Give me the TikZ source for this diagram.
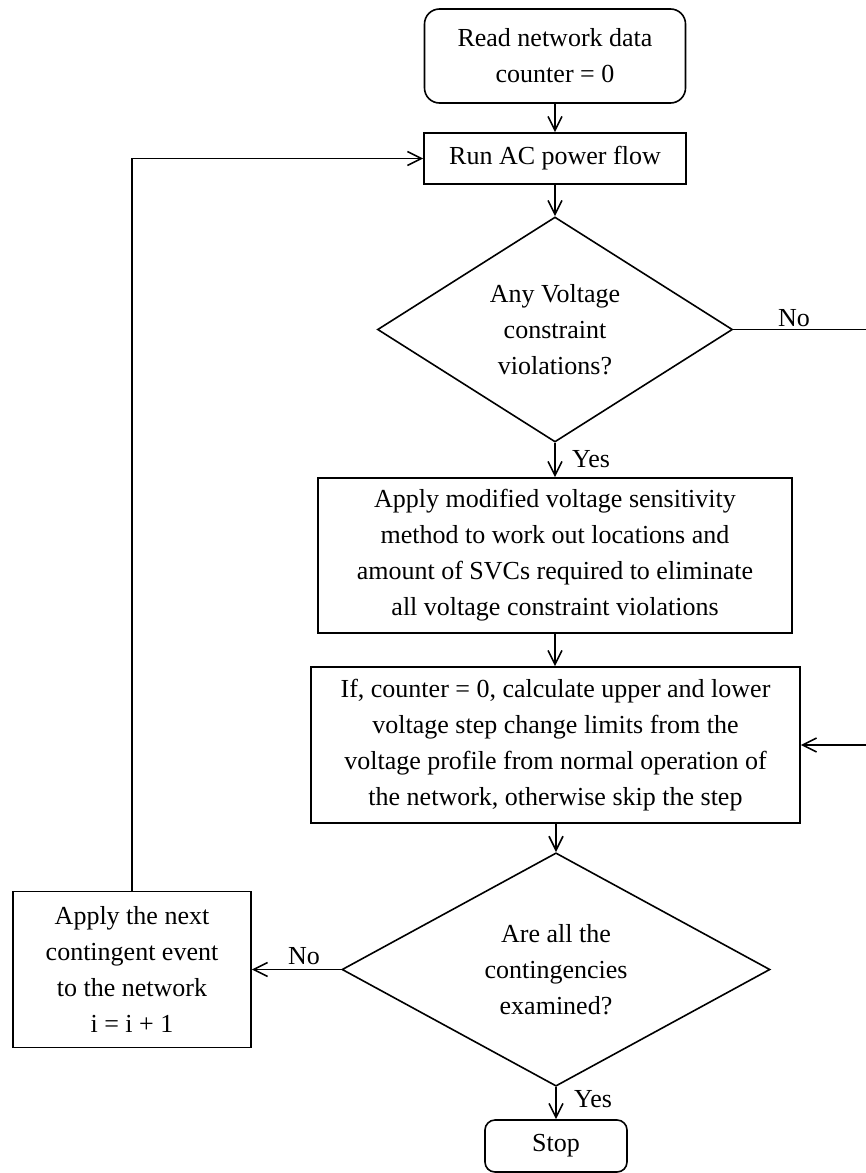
\documentclass[tikz,border=0pt]{standalone}
\usepackage{fontspec}
\setmainfont{Liberation Serif}
\usetikzlibrary{shapes.geometric,arrows.meta}
\tikzset{
  base/.style={draw, line width=1.6pt, inner sep=0pt, align=center, font=\fontsize{26}{36}\selectfont},
  procbox/.style={base, rectangle},
  termbox/.style={base, rectangle, rounded corners=15pt},
  decbox/.style={base, diamond},
  conn/.style={line width=1.6pt, -{Straight Barb[length=14pt,width=14pt,line width=1.6pt]}},
  lbl/.style={inner sep=0pt, font=\fontsize{26}{36}\selectfont}
}
\begin{document}
\begin{tikzpicture}[x=1pt,y=-1pt]
\useasboundingbox (0,0) rectangle (866,1173);
\clip (0,0) rectangle (866,1173);
% nodes
\node[termbox, minimum width=261pt, minimum height=94pt] (start) at (555,56) {Read network data\\counter = 0};
\node[procbox, minimum width=262pt, minimum height=51pt] (run) at (555,158.5) {Run AC power flow};
\node[decbox, minimum width=355pt, minimum height=225pt] (d1) at (555,329.5) {Any Voltage\\constraint\\violations?};
\node[procbox, minimum width=474pt, minimum height=155pt] (svc) at (555,555.5) {Apply modified voltage sensitivity\\method to work out locations and\\amount of SVCs required to eliminate\\all voltage constraint violations};
\node[procbox, minimum width=489pt, minimum height=156pt] (lim) at (555.5,745) {If, counter = 0, calculate upper and lower\\voltage step change limits from the\\voltage profile from normal operation of\\the network, otherwise skip the step};
\node[decbox, minimum width=428pt, minimum height=225pt] (d2) at (556,969.5) {Are all the\\contingencies\\examined?};
\node[procbox, minimum width=238pt, minimum height=156pt] (next) at (132,969.5) {Apply the next\\contingent event\\to the network\\i = i + 1};
\node[termbox, rounded corners=10pt, minimum width=142pt, minimum height=52pt] (stop) at (556,1146) {Stop};
\coordinate (rtop) at (869,329.5);
% labels
\node[lbl] (no1) at (794,318) {No};
\node[lbl] (yes1) at (591,459) {Yes};
\node[lbl] (no2) at (304,956) {No};
\node[lbl] (yes2) at (593,1099) {Yes};
% connectors
\draw[conn] (start) -- (run);
\draw[conn] (run) -- (d1);
\draw[conn] (d1) -- (svc);
\draw[conn] (svc.south) -- (svc.south |- lim.north);
\draw[conn] (lim.south -| d2.north) -- (d2.north);
\draw[conn] (d2) -- (stop);
\draw[conn] (d2.west) -- (next.east);
\draw[conn] (next.north) |- (run.west);
\draw[conn] (d1.east) -- (rtop) |- (lim.east);
\end{tikzpicture}
\end{document}
